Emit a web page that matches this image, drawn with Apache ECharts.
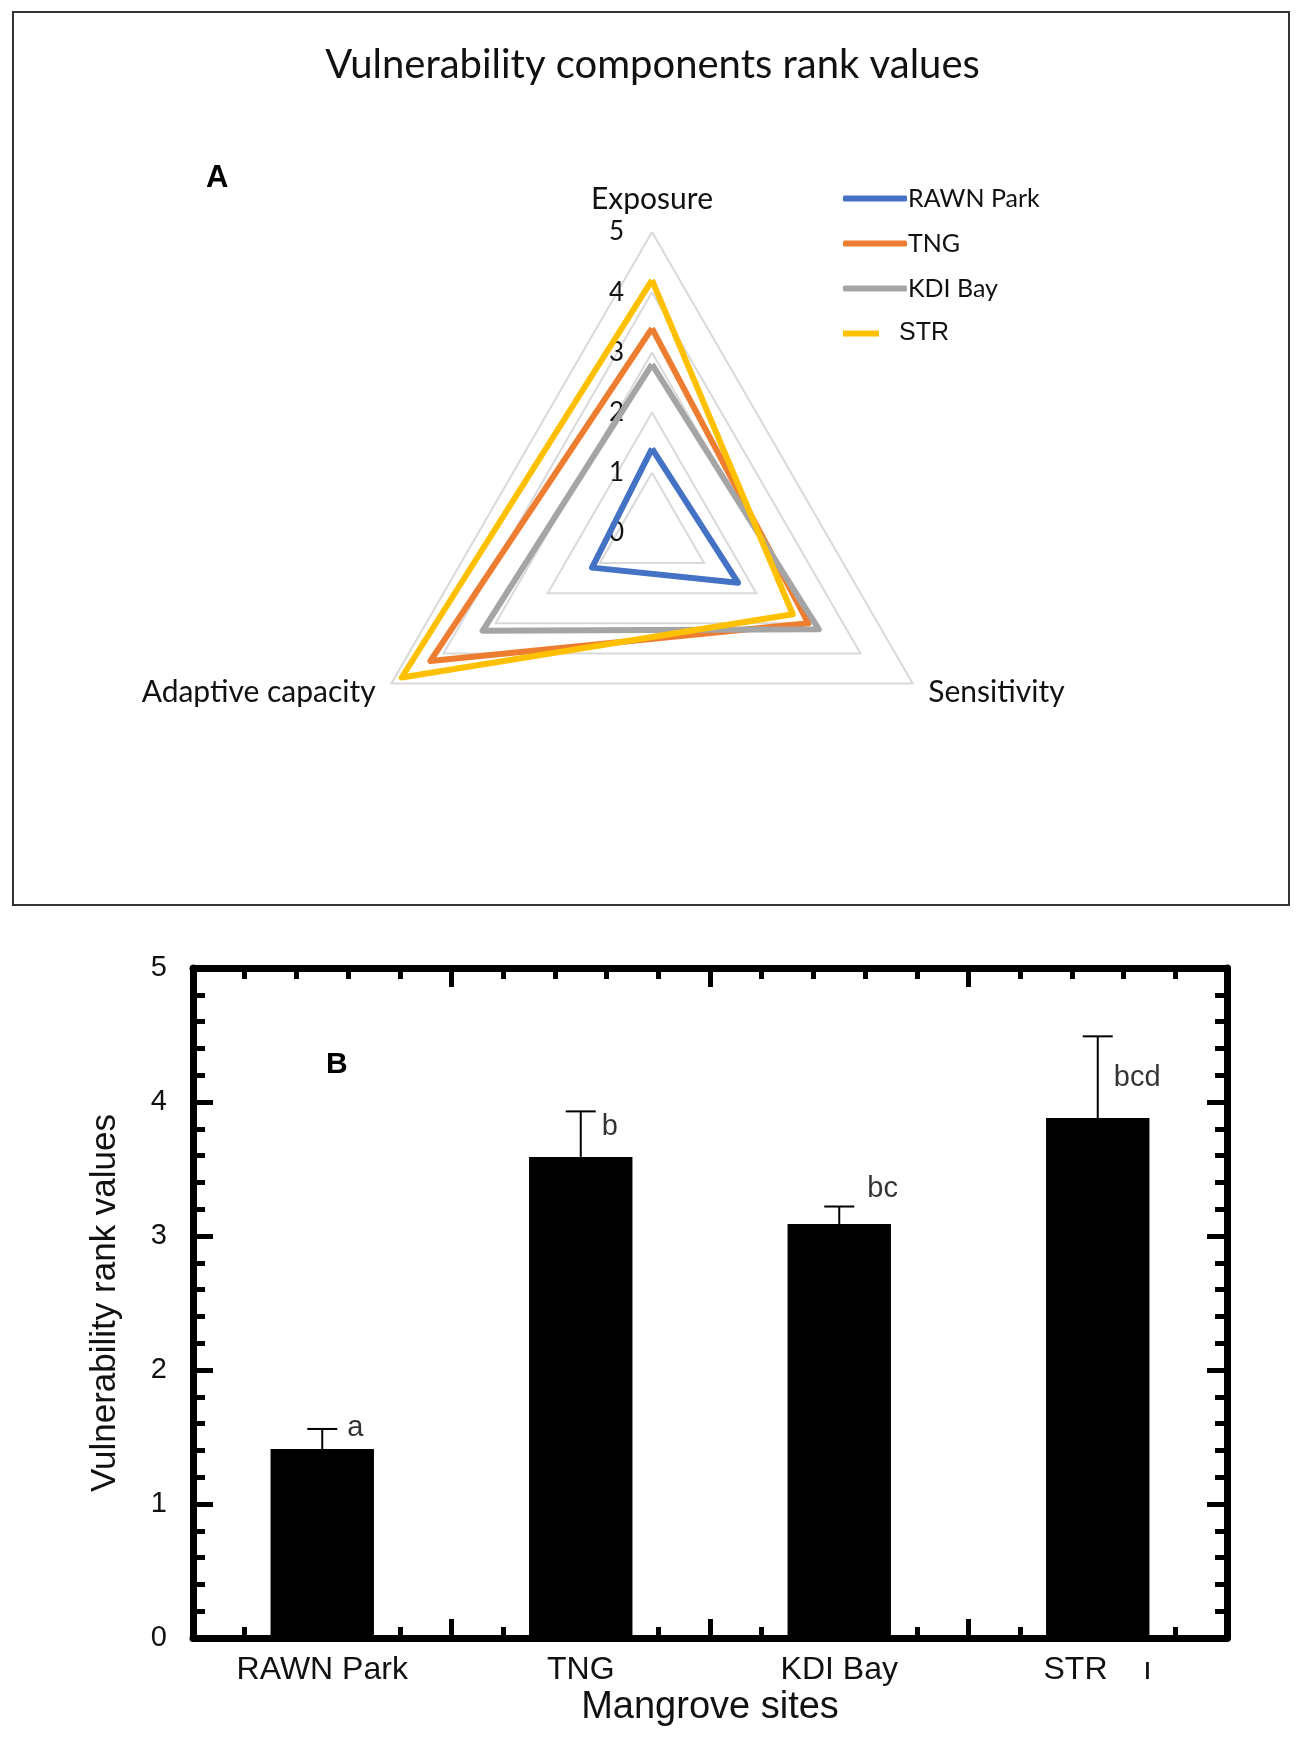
<!DOCTYPE html>
<html>
<head>
<meta charset="utf-8">
<title>Vulnerability components rank values</title>
<script src="https://cdn.jsdelivr.net/npm/echarts@6/dist/echarts.min.js"></script>
<style>
html, body { margin: 0; padding: 0; background: #fff; }
#main { width: 1305px; height: 1738px; }
</style>
</head>
<body>
<div id="main"></div>
<script>
// panel A - radar
var radarAxes = ['Exposure', 'Adaptive capacity', 'Sensitivity'];
var radarMax = 5;
var siteNames = ['RAWN Park', 'TNG', 'KDI Bay', 'STR'];
// values in radarAxes order: Exposure, Adaptive capacity, Sensitivity
var rawnVals = [1.4, 1.15, 1.65];
var tngVals = [3.4, 4.25, 3.0];
var kdiVals = [2.8, 3.25, 3.2];
var strVals = [4.2, 4.8, 2.7];
var siteColors = ['#4472C4', '#ED7D31', '#A5A5A5', '#FFC000'];

// panel B - bars
var barSites = ['RAWN Park', 'TNG', 'KDI Bay', 'STR'];
var barMeans = [1.41, 3.59, 3.09, 3.88];
var barErrors = [0.15, 0.34, 0.13, 0.61];
var barLetters = ['a', 'b', 'bc', 'bcd'];
var yTicks = [0, 1, 2, 3, 4, 5];

var chart = echarts.init(document.getElementById('main'));

var radarSets = [rawnVals, tngVals, kdiVals, strVals];
var radarData = radarSets.map(function (v, i) {
    return {
        name: siteNames[i],
        value: v,
        lineStyle: { color: siteColors[i], width: 6 },
        itemStyle: { color: siteColors[i] }
    };
});

var radarLabel = { fontFamily: 'Lato', fontSize: 26, color: '#111', margin: 28 };

// legend entries; the last one has a short key and a different type face in the original
var legendItems = siteNames.map(function (n, i) {
    if (i === siteNames.length - 1) {
        return {
            name: n,
            icon: 'path://M0,0L36,0L36,6L0,6Z M64,6',
            textStyle: { fontFamily: 'Liberation Sans', fontSize: 25, padding: [0, 0, 0, -13] }
        };
    }
    return { name: n };
});

// where each letter sits relative to the top of its error bar
var letterShift = [[25, -1], [21, 16], [28, -18], [16, 42]];

var errTops = barMeans.map(function (m, i) { return [i, m + barErrors[i]]; });

var tickAxisX = function (pos) {
    return {
        type: 'value',
        gridIndex: 0,
        position: pos,
        min: 0,
        max: barSites.length,
        interval: 1,
        axisLine: { show: true, onZero: false, lineStyle: { color: '#000', width: 7 } },
        axisTick: { show: true, inside: true, length: 19, lineStyle: { color: '#000', width: 5 } },
        minorTick: { show: true, splitNumber: 5, length: 11, lineStyle: { color: '#000', width: 5 } },
        axisLabel: { show: false },
        splitLine: { show: false }
    };
};

option = {
    backgroundColor: '#fff',
    animation: false,
    color: siteColors,
    title: [
        {
            text: 'Vulnerability components rank values',
            left: 'center',
            top: 40,
            textStyle: { fontFamily: 'Lato', fontWeight: 'normal', fontSize: 40, color: '#111' }
        },
        {
            text: 'A',
            left: 201,
            top: 158,
            textStyle: { fontFamily: 'Liberation Sans', fontWeight: 'bold', fontSize: 31, color: '#000' }
        },
        {
            text: 'B',
            left: 321,
            top: 1045,
            textStyle: { fontFamily: 'Liberation Sans', fontWeight: 'bold', fontSize: 30, color: '#000' }
        }
    ],
    graphic: [
        {
            type: 'rect',
            shape: { x: 13, y: 12, width: 1276, height: 893 },
            style: { fill: 'none', stroke: '#333', lineWidth: 2 },
            silent: true
        }
    ],
    legend: {
        data: legendItems,
        orient: 'vertical',
        left: 838,
        top: 181,
        icon: 'roundRect',
        itemWidth: 64,
        itemHeight: 6,
        itemGap: 20,
        textStyle: { fontFamily: 'Lato', fontSize: 25, color: '#111', padding: [0, 0, 0, -4] }
    },
    radar: {
        center: [652, 533],
        radius: 301,
        startAngle: 90,
        shape: 'polygon',
        splitNumber: 5,
        indicator: radarAxes.map(function (n, i) {
            var ind = { name: n, min: 0, max: radarMax };
            if (i === 0) {
                ind.axisLabel = echarts.util.extend({ show: true }, radarLabel);
            }
            return ind;
        }),
        axisName: { fontFamily: 'Lato', fontSize: 30, color: '#111' },
        nameGap: 18,
        axisLine: { show: false },
        axisTick: { show: false },
        axisLabel: echarts.util.extend({ show: false }, radarLabel),
        splitLine: { lineStyle: { color: '#d9d9d9', width: 2 } },
        splitArea: { show: false }
    },
    grid: {
        left: 193,
        right: 78,
        top: 968,
        height: 670,
        containLabel: false
    },
    xAxis: [
        {
            type: 'category',
            position: 'bottom',
            data: barSites,
            axisLine: { show: false, onZero: false },
            axisTick: { show: false },
            axisLabel: {
                margin: 16,
                fontFamily: 'Liberation Sans',
                fontSize: 32,
                color: '#111',
                formatter: function (v) { return v === 'STR' ? 'STR    \u0131' : v; }
            },
            name: 'Mangrove sites',
            nameLocation: 'middle',
            nameGap: 51,
            nameTextStyle: { fontFamily: 'Liberation Sans', fontSize: 38, color: '#111' },
            splitLine: { show: false }
        },
        tickAxisX('bottom'),
        tickAxisX('top')
    ],
    yAxis: [
        {
            type: 'value',
            position: 'left',
            min: yTicks[0],
            max: yTicks[yTicks.length - 1],
            interval: 1,
            axisLine: { show: true, onZero: false, lineStyle: { color: '#000', width: 7 } },
            axisTick: { show: true, inside: true, length: 20, lineStyle: { color: '#000', width: 5 } },
            minorTick: { show: true, splitNumber: 5, length: 12, lineStyle: { color: '#000', width: 5 } },
            axisLabel: { margin: 26, fontFamily: 'Liberation Sans', fontSize: 29, color: '#111' },
            splitLine: { show: false },
            name: 'Vulnerability rank values',
            nameLocation: 'middle',
            nameGap: 70,
            nameTextStyle: { fontFamily: 'Liberation Sans', fontSize: 35, color: '#111' }
        },
        {
            type: 'value',
            position: 'right',
            min: yTicks[0],
            max: yTicks[yTicks.length - 1],
            interval: 1,
            axisLine: { show: true, onZero: false, lineStyle: { color: '#000', width: 7 } },
            axisTick: { show: true, inside: true, length: 20, lineStyle: { color: '#000', width: 5 } },
            minorTick: { show: true, splitNumber: 5, length: 12, lineStyle: { color: '#000', width: 5 } },
            axisLabel: { show: false },
            splitLine: { show: false }
        }
    ],
    series: [
        {
            name: 'sites',
            type: 'radar',
            symbol: 'none',
            data: radarData
        },
        {
            name: 'Vulnerability rank',
            type: 'bar',
            xAxisIndex: 0,
            yAxisIndex: 0,
            barWidth: '40%',
            itemStyle: { color: '#000' },
            z: 3,
            data: barMeans
        },
        {
            name: 'error',
            type: 'custom',
            xAxisIndex: 0,
            yAxisIndex: 0,
            z: 4,
            renderItem: function (params, api) {
                var i = api.value(0);
                var lo = api.coord([i, api.value(1)]);
                var hi = api.coord([i, api.value(2)]);
                var capHalf = 15;
                return {
                    type: 'group',
                    children: [
                        {
                            type: 'line',
                            shape: { x1: lo[0], y1: lo[1], x2: hi[0], y2: hi[1] },
                            style: { stroke: '#000', lineWidth: 2 }
                        },
                        {
                            type: 'line',
                            shape: { x1: hi[0] - capHalf, y1: hi[1], x2: hi[0] + capHalf, y2: hi[1] },
                            style: { stroke: '#000', lineWidth: 2 }
                        }
                    ]
                };
            },
            data: barMeans.map(function (m, i) { return [i, m, m + barErrors[i]]; })
        },
        {
            name: 'letters',
            type: 'scatter',
            xAxisIndex: 0,
            yAxisIndex: 0,
            symbolSize: 0,
            z: 5,
            data: errTops.map(function (p, i) {
                return {
                    value: p,
                    label: {
                        show: true,
                        position: 'right',
                        distance: 0,
                        offset: letterShift[i],
                        formatter: barLetters[i],
                        fontFamily: 'Liberation Sans',
                        fontSize: 29,
                        color: '#000'
                    }
                };
            })
        }
    ]
};

chart.setOption(option);
</script>
</body>
</html>
